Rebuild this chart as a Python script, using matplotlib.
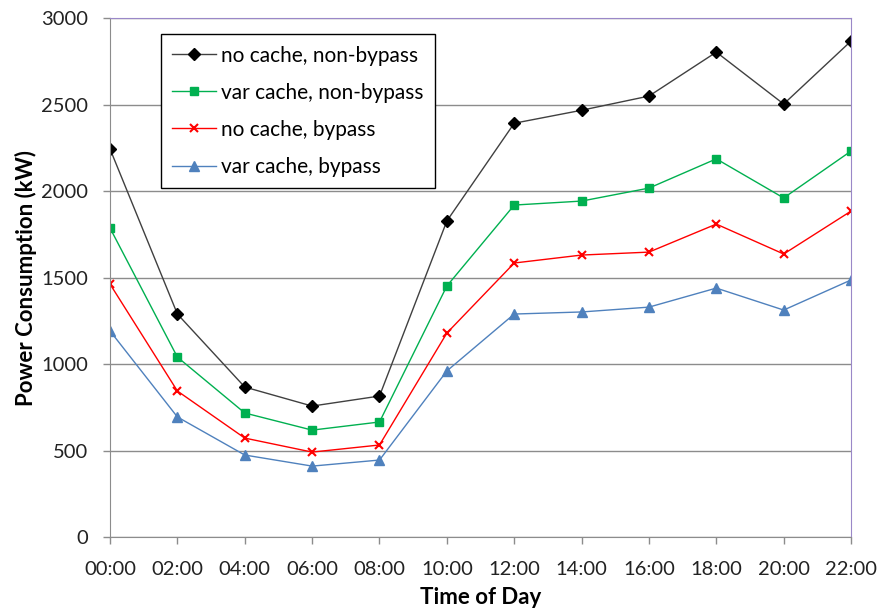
import matplotlib
matplotlib.use("Agg")
import matplotlib.pyplot as plt

times = ["00:00", "02:00", "04:00", "06:00", "08:00", "10:00",
         "12:00", "14:00", "16:00", "18:00", "20:00", "22:00"]

no_cache_nonbypass = [2243, 1289, 867, 757, 815, 1827, 2392, 2467, 2549, 2803, 2503, 2867]
var_cache_nonbypass = [1786, 1040, 717, 618, 665, 1451, 1919, 1942, 2017, 2186, 1960, 2231]
no_cache_bypass = [1462, 844, 572, 491, 532, 1179, 1584, 1630, 1647, 1809, 1636, 1884]
var_cache_bypass = [1191, 694, 474, 410, 445, 960, 1289, 1301, 1329, 1439, 1312, 1486]

plt.rcParams['font.family'] = ['Lato', 'DejaVu Sans']

fig = plt.figure(figsize=(8.81, 6.12), dpi=100)
ax = fig.add_axes([0.1249, 0.1225, 0.8411, 0.848])

x = list(range(len(times)))
ax.plot(x, no_cache_nonbypass, color="#404040", lw=1, marker="D", ms=6,
        mfc="black", mec="black", label="no cache, non-bypass")
ax.plot(x, var_cache_nonbypass, color="#00b050", lw=1, marker="s", ms=6,
        mfc="#00b050", mec="#00b050", label="var cache, non-bypass")
ax.plot(x, no_cache_bypass, color="#ff0000", lw=1, marker="x", ms=5.5,
        mew=1.5, label="no cache, bypass")
ax.plot(x, var_cache_bypass, color="#4f81bd", lw=1, marker="^", ms=7,
        mfc="#4f81bd", mec="#4f81bd", label="var cache, bypass")

ax.set_xlim(0, len(times) - 1)
ax.set_ylim(0, 3000)
ax.set_xticks(x)
ax.set_xticklabels(times)
ax.set_yticks(range(0, 3001, 500))
ax.tick_params(axis="both", labelsize=14.5, colors="#8c8c8c", direction="out",
               length=5, width=1, labelcolor="#222222")
ax.tick_params(axis="y", pad=11)
ax.tick_params(axis="x", pad=12)

ax.grid(axis="y", color="#8c8c8c", lw=1)
ax.set_axisbelow(True)
for side in ["left", "bottom"]:
    ax.spines[side].set_color("#8c8c8c")
for side in ["top", "right"]:
    ax.spines[side].set_color("#9a88c8")

ax.set_xlabel("Time of Day", fontsize=16, fontweight="bold", labelpad=7)
ax.set_ylabel("Power Consumption (kW)", fontsize=16, fontweight="bold", labelpad=3)

leg = ax.legend(loc="upper left", bbox_to_anchor=(0.0688, 0.969), borderaxespad=0,
                fontsize=15, frameon=True, fancybox=False, edgecolor="black",
                borderpad=0.55, labelspacing=0.82, handlelength=2.1,
                handletextpad=0.25)
leg.get_frame().set_linewidth(1)
leg.get_frame().set_alpha(1)

fig.savefig("out.png", dpi=100)
